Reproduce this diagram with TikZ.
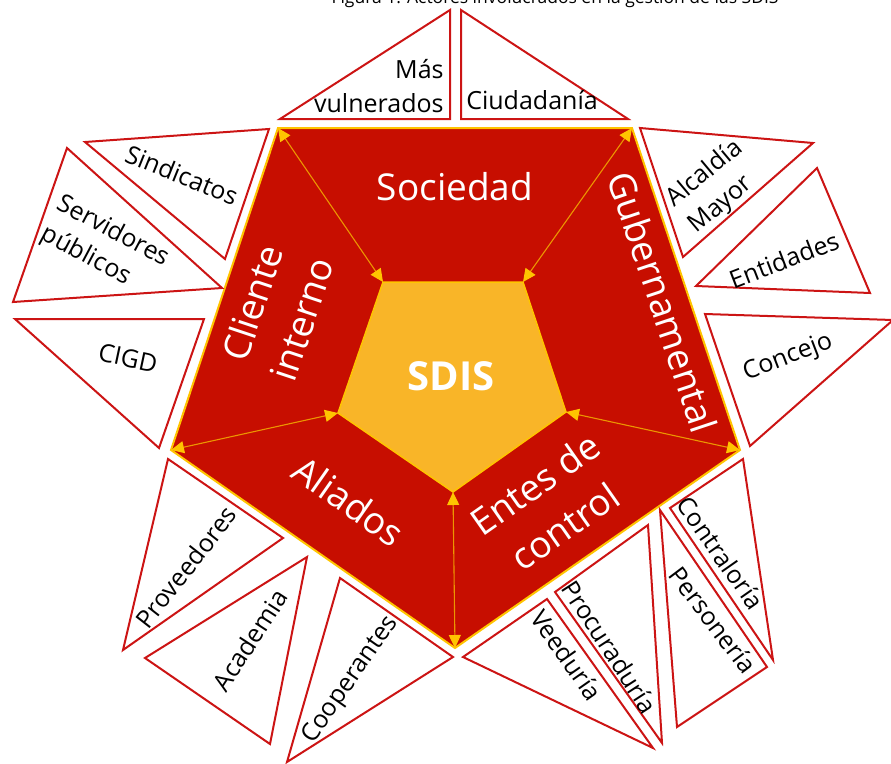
\documentclass[tikz,border=0pt]{standalone}
\usepackage{fontspec}
\setmainfont{Open Sans}
\usetikzlibrary{arrows.meta}

\definecolor{sectorred}{RGB}{199,14,0}
\definecolor{coregold}{RGB}{249,181,40}
\definecolor{rimyellow}{RGB}{255,196,0}
\definecolor{actorred}{RGB}{204,20,20}
\definecolor{linkorange}{RGB}{236,150,0}

\tikzset{every picture/.style={line width=0.75pt}}
\tikzset{
  actor/.style={draw=actorred, line width=2pt, fill=white, line join=miter},
  actortext/.style={font=\fontsize{25}{34}\selectfont, align=center, inner sep=0pt},
  sectortext/.style={font=\fontsize{37}{52}\selectfont, text=white, align=center, inner sep=0pt},
  link/.style={draw=linkorange, line width=1.1pt,
    {Triangle[length=13pt,width=12pt,color=rimyellow]}-{Triangle[length=13pt,width=12pt,color=rimyellow]}}
}

\begin{document}
\begin{tikzpicture}[x=1pt,y=1pt,yscale=-1]
\useasboundingbox (0,0) rectangle (891,763);

% Title (cut by the page edge)
\node[font=\fontsize{17.5}{20}\selectfont, anchor=base, inner sep=0pt] (title) at (555,3) {Figura 1. Actores involucrados en la gestión de las SDIS};

% Pentagon corners
\coordinate (o1) at (278,128);
\coordinate (o2) at (632,128);
\coordinate (o3) at (740,450);
\coordinate (o4) at (455,648);
\coordinate (o5) at (171,450);
\coordinate (i1) at (383,282);
\coordinate (i2) at (523,282);
\coordinate (i3) at (566,412);
\coordinate (i4) at (453,492);
\coordinate (i5) at (338,413);

%Shape: Outer pentagon
\draw[draw=rimyellow, line width=2pt, fill=sectorred] (o1) -- (o2) -- (o3) -- (o4) -- (o5) -- cycle;
%Shape: Inner pentagon
\draw[draw=rimyellow, line width=1.5pt, fill=coregold] (i1) -- (i2) -- (i3) -- (i4) -- (i5) -- cycle;

%Shape: Triangle (top)
\draw[actor] (450,10) -- (450,119) -- (280,119) -- cycle;
\draw[actor] (461,10) -- (461,119) -- (628,119) -- cycle;
%Shape: Triangle (left)
\draw[actor] (85,142) -- (269,129) -- (225,259) -- cycle;
\draw[actor] (67,148) -- (222,288) -- (13,302) -- cycle;
\draw[actor] (15,319) -- (204,319) -- (159,448) -- cycle;
%Shape: Triangle (right)
\draw[actor] (640,128) -- (813,143) -- (683,257) -- cycle;
\draw[actor] (817,168) -- (870,293) -- (696,286) -- cycle;
\draw[actor] (705,314) -- (893,320) -- (750,446) -- cycle;
%Shape: Triangle (bottom left)
\draw[actor] (168,459) -- (283,538) -- (123,650) -- cycle;
\draw[actor] (307,557) -- (270,744) -- (145,658) -- cycle;
\draw[actor] (340,578) -- (453,657) -- (287,762) -- cycle;
%Shape: Triangle (bottom right)
\draw[actor] (547,599) -- (653,748) -- (463,657) -- cycle;
\draw[actor] (555,592) -- (648,525) -- (662,743) -- cycle;
\draw[actor] (660,510) -- (767,667) -- (677,727) -- cycle;
\draw[actor] (670,508) -- (743,459) -- (773,660) -- cycle;

% Links
\draw[link] (i1) -- (o1);
\draw[link] (i2) -- (o2);
\draw[link] (i3) -- (o3);
\draw[link] (i4) -- (o4);
\draw[link] (i5) -- (o5);

% Text Node
\node[font=\bfseries\fontsize{40}{44}\selectfont, text=white, inner sep=0pt] (sdis) at (451,376) {SDIS};
\node[sectortext] (sociedad) at (455,187) {Sociedad};
\node[sectortext, rotate=71.6] (cliente) at (277,311) {Cliente\\interno};
\node[sectortext, rotate=-71.6] (gubernamental) at (663,302) {Gubernamental};
\node[sectortext, rotate=-35] (aliados) at (349,501) {Aliados};
\node[sectortext, rotate=35] (entes) at (550,505) {Entes de\\control};

% Text Node
\node[actortext, align=right, anchor=east] (vulnerados) at (444,86) {Más\\vulnerados};
\node[actortext] (ciudadania) at (532,100) {Ciudadanía};
\node[actortext, rotate=-22] (sindicatos) at (182,175) {Sindicatos};
\node[actortext, align=left, rotate=-28] (servidores) at (105,247) {Servidores\\públicos};
\node[actortext, rotate=-12] (cigd) at (128,358) {CIGD};
\node[actortext, align=left, rotate=40] (alcaldia) at (716,187) {Alcaldía\\Mayor};
\node[actortext, rotate=21] (entidades) at (784,260) {Entidades};
\node[actortext, rotate=21] (concejo) at (788,358) {Concejo};
\node[actortext, rotate=52] (proveedores) at (186,567) {Proveedores};
\node[actortext, rotate=57] (academia) at (250,640) {Academia};
\node[actortext, rotate=55] (cooperantes) at (351,680) {Cooperantes};
\node[actortext, rotate=-55] (veeduria) at (567,655) {Veeduría};
\node[actortext, rotate=-57] (procuraduria) at (610,647) {Procuraduría};
\node[actortext, rotate=-53] (personeria) at (713,620) {Personería};
\node[actortext, rotate=-55] (contraloria) at (721,553) {Contraloría};

\end{tikzpicture}
\end{document}
